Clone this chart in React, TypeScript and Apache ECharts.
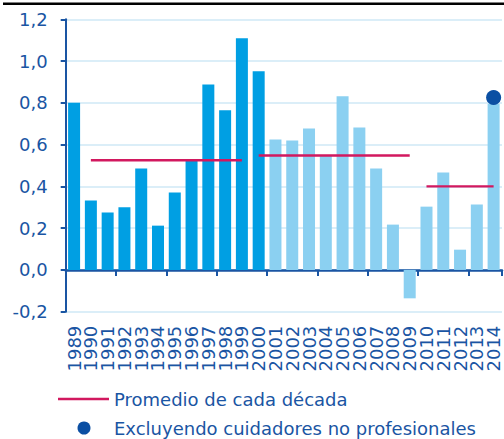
import React, { useEffect, useRef } from "react";
import * as echarts from "echarts";

const years = [
  "1989", "1990", "1991", "1992", "1993", "1994", "1995", "1996", "1997", "1998",
  "1999", "2000", "2001", "2002", "2003", "2004", "2005", "2006", "2007", "2008",
  "2009", "2010", "2011", "2012", "2013", "2014",
];
const values = [
  0.8, 0.332, 0.275, 0.3, 0.486, 0.212, 0.371, 0.524, 0.888, 0.764,
  1.109, 0.951, 0.625, 0.62, 0.677, 0.545, 0.831, 0.682, 0.486, 0.217,
  -0.136, 0.303, 0.466, 0.097, 0.313, 0.796,
];
const decadeStart = ["1990", "2000", "2010"];
const decadeEnd = ["1999", "2009", "2014"];
const decadeAvg = [0.525, 0.548, 0.4];
const excludingYear = "2014";
const excludingValue = 0.826;
const yTicks = { min: -0.2, max: 1.2, interval: 0.2 };
const legendNames = ["Promedio de cada década", "Excluyendo cuidadores no profesionales"];

const DARK_BAR = "#009fe3";
const LIGHT_BAR = "#8bd0f1";
const AXIS = "#1a55a3";
const LINE = "#d2185f";
const DOT = "#0b4fa3";
const FONT = "DejaVu Sans";

export default function App() {
  const ref = useRef<HTMLDivElement>(null);
  useEffect(() => {
    if (!ref.current) return;
    const chart = echarts.init(ref.current, undefined, { renderer: "svg" });

    const barData = values.map((v, i) => ({
      value: v,
      itemStyle: { color: Number(years[i]) <= 2000 ? DARK_BAR : LIGHT_BAR },
    }));

    const avgSeries = decadeAvg.map((avg, d) => {
      const s = years.indexOf(decadeStart[d]);
      const e = years.indexOf(decadeEnd[d]);
      return {
        name: legendNames[0],
        type: "line",
        xAxisIndex: 0,
        data: years.map((_, i) => (i >= s && i <= e ? avg : null)),
        symbol: "none",
        lineStyle: { color: LINE, width: 2.4 },
        itemStyle: { color: LINE },
        connectNulls: false,
        z: 5,
      };
    });

    const dotData = years.map((y) => (y === excludingYear ? excludingValue : null));

    chart.setOption({
      animation: false,
      textStyle: { fontFamily: FONT },
      grid: { left: 65.7, right: 2, top: 19.3, bottom: 127.3 },
      graphic: [
        {
          type: "line",
          shape: { x1: 3, y1: 3.8, x2: 504, y2: 3.8 },
          style: { stroke: "#000", lineWidth: 2.4 },
        },
        {
          type: "line",
          shape: { x1: 58, y1: 399, x2: 109, y2: 399 },
          style: { stroke: LINE, lineWidth: 2.4 },
        },
        {
          type: "text",
          x: 114,
          y: 399,
          style: {
            text: legendNames[0],
            fill: AXIS,
            font: `18px "${FONT}"`,
            verticalAlign: "middle",
            align: "left",
          },
        },
        {
          type: "circle",
          shape: { cx: 84, cy: 428, r: 6.5 },
          style: { fill: DOT },
        },
        {
          type: "text",
          x: 114,
          y: 428,
          style: {
            text: legendNames[1],
            fill: AXIS,
            font: `18px "${FONT}"`,
            verticalAlign: "middle",
            align: "left",
          },
        },
      ],
      xAxis: [
        {
          type: "category",
          data: years,
          position: "bottom",
          boundaryGap: true,
          axisLine: { show: true, onZero: true, lineStyle: { color: AXIS, width: 2.5 } },
          axisTick: { show: true, length: 6, lineStyle: { color: AXIS, width: 2 } },
          axisLabel: { show: false },
          splitLine: { show: false },
        },
        {
          type: "category",
          data: years,
          position: "bottom",
          boundaryGap: true,
          axisLine: { show: false, onZero: false },
          axisTick: { show: false },
          axisLabel: {
            show: true,
            rotate: 90,
            margin: 14,
            color: AXIS,
            fontSize: 18,
            fontFamily: FONT,
            interval: 0,
          },
          splitLine: { show: false },
        },
      ],
      yAxis: {
        type: "value",
        min: yTicks.min,
        max: yTicks.max,
        interval: yTicks.interval,
        axisLine: { show: true, onZero: false, lineStyle: { color: AXIS, width: 2 } },
        axisTick: { show: true, length: 5, lineStyle: { color: AXIS, width: 2 } },
        axisLabel: {
          color: AXIS,
          fontSize: 18,
          fontFamily: FONT,
          margin: 18,
          formatter: (v: number) => v.toFixed(1).replace(".", ","),
        },
        splitLine: { show: true, lineStyle: { color: "#cfe9f6", width: 1.5 } },
      },
      series: [
        {
          name: "Tasa",
          type: "bar",
          xAxisIndex: 0,
          data: barData,
          barWidth: 12,
          z: 2,
        },
        ...avgSeries,
        {
          name: legendNames[1],
          type: "scatter",
          xAxisIndex: 0,
          data: dotData,
          symbol: "circle",
          symbolSize: 15,
          itemStyle: { color: DOT, opacity: 1 },
          z: 6,
        },
      ],
    });
    return () => chart.dispose();
  }, []);
  return (
    <div
      ref={ref}
      style={{ position: "absolute", left: 0, top: 0, width: 504, height: 439 }}
    />
  );
}
